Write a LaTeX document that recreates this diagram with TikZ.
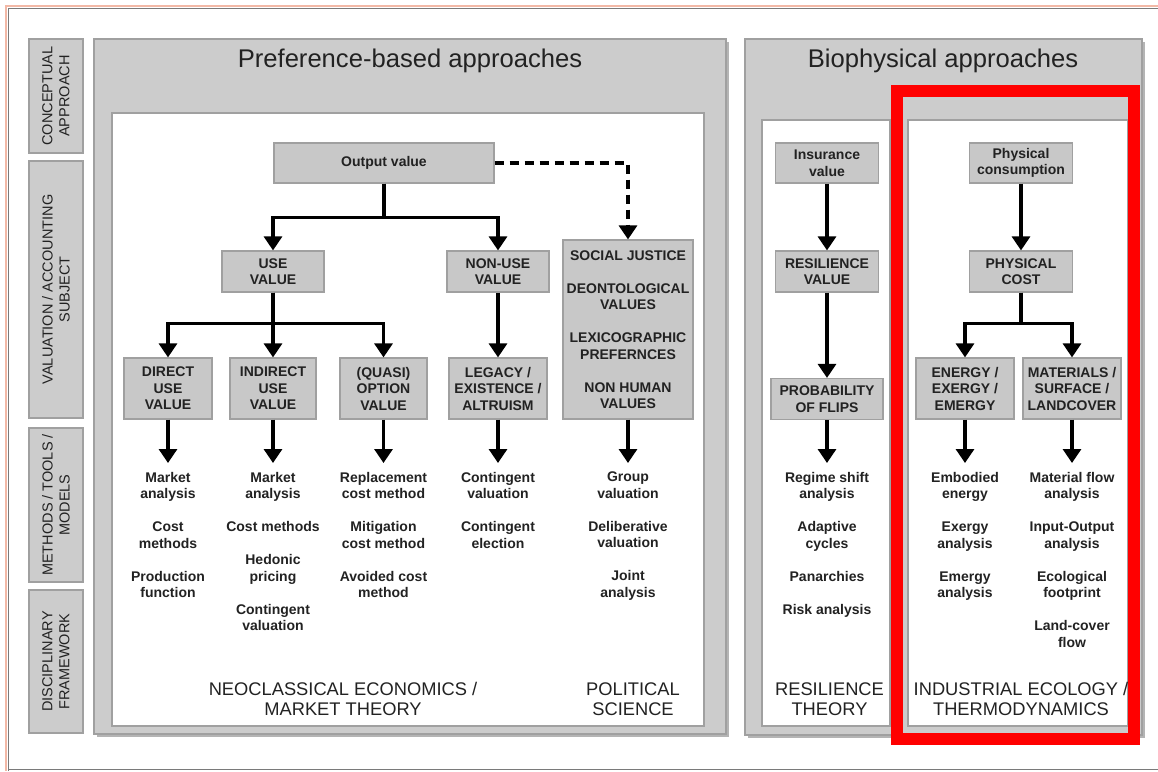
\documentclass[tikz,border=0pt]{standalone}
\usepackage{fontspec}
\setmainfont{Liberation Sans}
\usetikzlibrary{arrows.meta}
\definecolor{boxgray}{HTML}{C8C8C8}
\definecolor{panelgray}{HTML}{CCCCCC}
\definecolor{edgegray}{HTML}{A0A0A0}
\definecolor{shadowgray}{HTML}{B4B4B4}
\definecolor{txt}{HTML}{222222}
\definecolor{pinkline}{HTML}{F2B8A6}
\definecolor{framegray}{HTML}{7A7A7A}
\definecolor{redbox}{HTML}{FF0000}
\begin{document}
\begin{tikzpicture}[x=1pt,y=-1pt,
  panel/.style={fill=panelgray,draw=edgegray,line width=1.5pt},
  shadow/.style={fill=shadowgray},
  inset/.style={fill=white,draw=edgegray,line width=1.2pt},
  vbox/.style={fill=boxgray,draw=edgegray,line width=1.2pt,inner sep=0pt,align=center,text=txt,
    font=\bfseries\fontsize{14}{16.5}\selectfont},
  side/.style={fill=panelgray,draw=edgegray,line width=1.5pt,inner sep=0pt,align=center,text=txt,
    font=\fontsize{14.5}{17}\selectfont,rotate=90},
  meth/.style={anchor=north,inner xsep=0pt,inner ysep=9pt,align=center,text=txt,
    font=\bfseries\fontsize{14}{16.5}\selectfont},
  ttl/.style={text=txt,font=\fontsize{25.6}{30}\selectfont,inner sep=0pt},
  disc/.style={text=txt,font=\fontsize{18.3}{20.5}\selectfont,align=center,inner sep=0pt},
  arr/.style={draw=black,line width=3.2pt,-{Triangle[width=18pt,length=14pt]}},
  darr/.style={arr,dash pattern=on 9pt off 6pt}
]
\useasboundingbox (0,0) rectangle (1158,771);
\fill[white] (0,0) rectangle (1158,771);
% outer frame
\draw[pinkline,line width=2pt] (6,771) -- (6,6) -- (1158,6);
\draw[framegray,line width=1.5pt] (8.5,771) -- (8.5,8.5) -- (1158,8.5);
\draw[framegray,line width=1.5pt] (8.5,769.5) -- (1158,769.5);

% left column labels
\node[side,minimum width=114pt,minimum height=54pt] (sc) at (56,96) {CONCEPTUAL\\APPROACH};
\node[side,minimum width=257pt,minimum height=54pt] (sv) at (56,289.5) {VALUATION / ACCOUNTING\\SUBJECT};
\node[side,minimum width=154pt,minimum height=54pt] (sm) at (56,505) {METHODS / TOOLS /\\MODELS};
\node[side,minimum width=143pt,minimum height=54pt] (sd) at (56,661.5) {DISCIPLINARY\\FRAMEWORK};

% panels
\fill[shadow] (97,42) rectangle (729,737);
\draw[panel] (94,39) rectangle (726,734);
\fill[shadow] (748,42) rectangle (1145,738);
\draw[panel] (745,39) rectangle (1142,735);
\draw[inset] (112,113) rectangle (704,726);
\draw[inset] (762,120) rectangle (890,726);
\draw[inset] (908,120) rectangle (1128,726);

\node[ttl] (tpref) at (410,61) {Preference-based approaches};
\node[ttl] (tbio) at (943,61) {Biophysical approaches};

% preference-based boxes
\node[vbox,minimum width=220pt,minimum height=40pt] (ov) at (384,163) {Output value};
\node[vbox,minimum width=102pt,minimum height=41pt] (use) at (273,271.5) {USE\\VALUE};
\node[vbox,minimum width=102pt,minimum height=41pt] (nonuse) at (498,271.5) {NON-USE\\VALUE};
\node[vbox,minimum width=88pt,minimum height=61pt] (direct) at (168,388.5) {DIRECT\\USE\\VALUE};
\node[vbox,minimum width=86pt,minimum height=61pt] (indirect) at (273,388.5) {INDIRECT\\USE\\VALUE};
\node[vbox,minimum width=87pt,minimum height=61pt] (quasi) at (383.5,388.5) {(QUASI)\\OPTION\\VALUE};
\node[vbox,minimum width=98pt,minimum height=61pt] (legacy) at (498,388.5) {LEGACY /\\EXISTENCE /\\ALTRUISM};
\node[vbox,minimum width=130pt,minimum height=179pt] (social) at (628,329.5)
  {SOCIAL JUSTICE\\[16.5pt]DEONTOLOGICAL\\VALUES\\[16.5pt]LEXICOGRAPHIC\\PREFERNCES\\[16.5pt]NON HUMAN\\VALUES};

% biophysical boxes
\node[vbox,minimum width=103pt,minimum height=40pt] (ins) at (827,163) {Insurance\\value};
\node[vbox,minimum width=103pt,minimum height=41pt] (res) at (827,271.5) {RESILIENCE\\VALUE};
\node[vbox,minimum width=112pt,minimum height=41pt] (prob) at (827,399) {PROBABILITY\\OF FLIPS};
\node[vbox,minimum width=103pt,minimum height=40pt] (phys) at (1021,163) {Physical\\consumption};
\node[vbox,minimum width=103pt,minimum height=41pt] (pcost) at (1021,271.5) {PHYSICAL\\COST};
\node[vbox,minimum width=98pt,minimum height=61pt] (energy) at (965,388.5) {ENERGY /\\EXERGY /\\EMERGY};
\node[vbox,minimum width=98pt,minimum height=61pt] (mat) at (1072,388.5) {MATERIALS /\\SURFACE /\\LANDCOVER};

% methods
\node[meth] (m1) at (168,463) {Market\\analysis\\[16.5pt]Cost\\methods\\[16.5pt]Production\\function};
\node[meth] (m2) at (273,463) {Market\\analysis\\[16.5pt]Cost methods\\[16.5pt]Hedonic\\pricing\\[16.5pt]Contingent\\valuation};
\node[meth] (m3) at (383.5,463) {Replacement\\cost method\\[16.5pt]Mitigation\\cost method\\[16.5pt]Avoided cost\\method};
\node[meth] (m4) at (498,463) {Contingent\\valuation\\[16.5pt]Contingent\\election};
\node[meth] (m5) at (628,463) {Group\\valuation\\[16.5pt]Deliberative\\valuation\\[16.5pt]Joint\\analysis};
\node[meth] (m6) at (827,463) {Regime shift\\analysis\\[16.5pt]Adaptive\\cycles\\[16.5pt]Panarchies\\[16.5pt]Risk analysis};
\node[meth] (m7) at (965,463) {Embodied\\energy\\[16.5pt]Exergy\\analysis\\[16.5pt]Emergy\\analysis};
\node[meth] (m8) at (1072,463) {Material flow\\analysis\\[16.5pt]Input-Output\\analysis\\[16.5pt]Ecological\\footprint\\[16.5pt]Land-cover\\flow};

% disciplinary frameworks
\node[disc] (d1) at (343,699) {NEOCLASSICAL ECONOMICS /\\MARKET THEORY};
\node[disc] (d2) at (633,699) {POLITICAL\\SCIENCE};
\node[disc] (d3) at (829.5,699) {RESILIENCE\\THEORY};
\node[disc] (d4) at (1021,699) {INDUSTRIAL ECOLOGY /\\THERMODYNAMICS};

% connectors
\draw[arr] (ov.south) -- ++(0,34) -| (use.north);
\draw[arr] (ov.south) -- ++(0,34) -| (nonuse.north);
\draw[darr] (ov.east) -| (social.north);
\draw[arr] (use.south) -- ++(0,31) -| (direct.north);
\draw[arr] (use.south) -- (indirect.north);
\draw[arr] (use.south) -- ++(0,31) -| (quasi.north);
\draw[arr] (nonuse.south) -- (legacy.north);
\draw[arr] (ins.south) -- (res.north);
\draw[arr] (res.south) -- (prob.north);
\draw[arr] (phys.south) -- (pcost.north);
\draw[arr] (pcost.south) -- ++(0,31) -| (energy.north);
\draw[arr] (pcost.south) -- ++(0,31) -| (mat.north);

\draw[arr] (direct.south) -- (m1.north);
\draw[arr] (indirect.south) -- (m2.north);
\draw[arr] (quasi.south) -- (m3.north);
\draw[arr] (legacy.south) -- (m4.north);
\draw[arr] (social.south) -- (m5.north);
\draw[arr] (prob.south) -- (m6.north);
\draw[arr] (energy.south) -- (m7.north);
\draw[arr] (mat.south) -- (m8.north);

% highlight
\draw[redbox,line width=12pt] (897,91) rectangle (1133.5,739);
\end{tikzpicture}
\end{document}
